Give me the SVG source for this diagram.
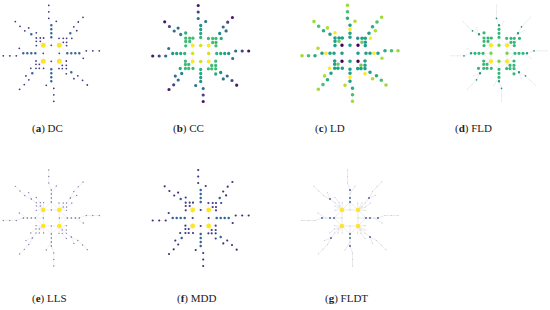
<svg xmlns="http://www.w3.org/2000/svg" width="550" height="310" viewBox="0 0 550 310">
<style>
.d{fill:none;stroke-linecap:round}
.e{fill:none;stroke-linecap:round;stroke-linejoin:round}
.lbl{font-family:"Liberation Serif","DejaVu Serif",serif;font-size:11px;fill:#222}
.lbl tspan.b{font-weight:bold}
</style>
<defs>
<path id="hub" d="M8 -8h0M8 8h0M-8 8h0M-8 -8h0"/>
<path id="c0" d="M8 0h0M0 8h0M-8 0h0M0 -8h0"/>
<path id="ci1" d="M16 0h0M0 16h0M-16 0h0M0 -16h0"/>
<path id="ci2" d="M20 0h0M0 20h0M-20 0h0M0 -20h0"/>
<path id="ci3" d="M24 0h0M0 24h0M-24 0h0M0 -24h0"/>
<path id="ci4" d="M28 0h0M0 28h0M-28 0h0M0 -28h0"/>
<path id="co1" d="M35 -2.5h0M2.5 35h0M-35 2.5h0M-2.5 -35h0"/>
<path id="co2" d="M41.5 -2.5h0M2.5 41.5h0M-41.5 2.5h0M-2.5 -41.5h0"/>
<path id="co3" d="M48 -2.5h0M2.5 48h0M-48 2.5h0M-2.5 -48h0"/>
<path id="cs" d="M32 5h0M-5 32h0M-32 -5h0M5 -32h0"/>
<path id="ringA" d="M12 -11h0M11 12h0M-12 11h0M-11 -12h0"/>
<path id="ring" d="M15.3 -11h0M12 -15h0M15.3 -15h0M7.7 -15h0M15.3 -7.7h0M11 15.3h0M15 12h0M15 15.3h0M15 7.7h0M7.7 15.3h0M-15.3 11h0M-12 15h0M-15.3 15h0M-7.7 15h0M-15.3 7.7h0M-11 -15.3h0M-15 -12h0M-15 -15.3h0M-15 -7.7h0M-7.7 -15.3h0"/>
<path id="dx" d="M20.5 -15h0M15 20.5h0M-20.5 15h0M-15 -20.5h0"/>
<path id="db" d="M19 -20h0M20 19h0M-19 20h0M-20 -19h0"/>
<path id="do1" d="M22.5 -26.5h0M26.5 22.5h0M-22.5 26.5h0M-26.5 -22.5h0"/>
<path id="do2" d="M27 -31.3h0M31.3 27h0M-27 31.3h0M-31.3 -27h0"/>
<path id="do3" d="M31.7 -36h0M36 31.7h0M-31.7 36h0M-36 -31.7h0"/>
<path id="ds" d="M25.4 -22.6h0M22.6 25.4h0M-25.4 22.6h0M-22.6 -25.4h0"/>
<path id="es" d="M8 -8L8 0M8 -8L0 -8M8 -8L16 0M8 -8L0 -16M8 0H28M28 0L35 -2.5L48 -2.5M24 0L32 5M8 -8L12 -11M8 -8L15.3 -11M8 -8L12 -15M8 -8L15.3 -15M8 -8L7.7 -15M8 -8L15.3 -7.7M15.3 -15L19 -20L22.5 -26.5L27 -31.3L31.7 -36M19 -20L25.4 -22.6M15.3 -11L20.5 -15"/>
<g id="edges"><use href="#es"/><use href="#es" transform="rotate(90)"/><use href="#es" transform="rotate(180)"/><use href="#es" transform="rotate(270)"/></g>
</defs>

<g id="connectors">
<use href="#edges" class="e" transform="translate(51.3 53.3)" stroke="#f0f0f0" stroke-width="0.5"/>
<use href="#edges" class="e" transform="translate(200.7 53.5)" stroke="#f0f0f0" stroke-width="0.5"/>
<use href="#edges" class="e" transform="translate(350 53.3)" stroke="#f0f0f0" stroke-width="0.5"/>
<use href="#edges" class="e" transform="translate(499 53.3)" stroke="#e4e4e4" stroke-width="0.6"/>
<use href="#edges" class="e" transform="translate(51.3 218)" stroke="#e6e6e6" stroke-width="0.6"/>
<use href="#edges" class="e" transform="translate(200.7 218)" stroke="#f0f0f0" stroke-width="0.5"/>
<use href="#edges" class="e" transform="translate(350 218)" stroke="#e2e2e2" stroke-width="0.7"/>
</g>

<g id="panel-a-DC" transform="translate(51.3 53.3)">
<g class="d" stroke="#4a3383" stroke-width="1.8"><use href="#co1"/><use href="#co2"/><use href="#co3"/><use href="#do1"/><use href="#do2"/><use href="#do3"/><use href="#cs"/><use href="#ds"/></g>
<g class="d" stroke="#46398a" stroke-width="1.8"><use href="#ring"/><use href="#ringA"/><use href="#dx"/><use href="#c0"/></g>
<g class="d" stroke="#35659a" stroke-width="2.5"><use href="#ci1"/><use href="#ci2"/><use href="#ci3"/><use href="#ci4"/><use href="#db"/></g>
<use href="#hub" class="d" stroke="#fde725" stroke-width="5"/>
</g>

<g id="panel-b-CC" transform="translate(200.7 53.5)">
<g class="d" stroke-width="3.2">
<use href="#co3" stroke="#48186a"/><use href="#do3" stroke="#48186a"/>
<use href="#co2" stroke="#414487"/><use href="#do2" stroke="#414487"/>
<use href="#co1" stroke="#2f6c8e"/><use href="#do1" stroke="#2f6c8e"/>
<use href="#cs" stroke="#2a768e"/><use href="#ds" stroke="#2c728e"/>
</g>
<g class="d" stroke-width="3.3">
<use href="#db" stroke="#23898e"/>
<use href="#ci4" stroke="#1f958b"/><use href="#ci3" stroke="#1fa088"/><use href="#ci2" stroke="#25ab82"/><use href="#ci1" stroke="#2fb47c"/>
<use href="#dx" stroke="#27ad81"/>
<use href="#ring" stroke="#3dbc74"/><use href="#ringA" stroke="#3dbc74"/>
</g>
<use href="#c0" class="d" stroke="#d2e21b" stroke-width="3.6"/>
<use href="#hub" class="d" stroke="#fde725" stroke-width="3.8"/>
</g>

<g id="panel-c-LD" transform="translate(350 53.3)">
<g class="d" stroke-width="3.6">
<use href="#co3" stroke="#9fda3a"/><use href="#do3" stroke="#9fda3a"/>
<use href="#co2" stroke="#4ac16d"/><use href="#do2" stroke="#4ac16d"/>
<use href="#co1" stroke="#28ae80"/><use href="#do1" stroke="#28ae80"/>
<use href="#cs" stroke="#b0dd2f"/><use href="#ds" stroke="#b0dd2f"/>
<use href="#ci1" stroke="#1fa187"/><use href="#ci2" stroke="#1fa187"/><use href="#ci4" stroke="#1fa187"/>
<use href="#c0" stroke="#1fa187"/><use href="#ring" stroke="#1fa187"/><use href="#db" stroke="#1fa187"/>
<use href="#ringA" stroke="#6ccd5a"/>
<use href="#ci3" stroke="#fde725"/><use href="#dx" stroke="#fde725"/>
</g>
<use href="#hub" class="d" stroke="#440154" stroke-width="3.4"/>
</g>

<g id="panel-d-FLD" transform="translate(499 53.3)">
<g class="d" stroke="#d6e4e8" stroke-width="1"><use href="#co2"/><use href="#co3"/><use href="#do2"/><use href="#do3"/><use href="#cs"/><use href="#ds"/></g>
<g class="d" stroke="#2a8a8c" stroke-width="1.7"><use href="#co1"/><use href="#do1"/></g>
<g class="d" stroke="#1f9a8a" stroke-width="2.4"><use href="#ci4"/><use href="#db"/></g>
<g class="d" stroke="#35b779" stroke-width="3.2"><use href="#ci1"/><use href="#ci2"/><use href="#ci3"/><use href="#ring"/><use href="#ringA"/><use href="#dx"/></g>
<use href="#c0" class="d" stroke="#7ad151" stroke-width="3.4"/>
<use href="#hub" class="d" stroke="#fde725" stroke-width="4.2"/>
</g>

<g id="panel-e-LLS" transform="translate(51.3 218)">
<g class="d" stroke="#8571b0" stroke-width="1.3"><use href="#co1"/><use href="#co2"/><use href="#co3"/><use href="#do1"/><use href="#do2"/><use href="#do3"/><use href="#cs"/><use href="#ds"/><use href="#ring"/><use href="#ringA"/><use href="#dx"/><use href="#c0"/></g>
<g class="d" stroke="#5f50a0" stroke-width="1.4"><use href="#ci1"/><use href="#ci2"/><use href="#ci3"/><use href="#ci4"/><use href="#db"/></g>
<use href="#hub" class="d" stroke="#fde725" stroke-width="4.6"/>
</g>

<g id="panel-f-MDD" transform="translate(200.7 218)">
<g class="d" stroke="#46307e" stroke-width="2.2"><use href="#co1"/><use href="#co2"/><use href="#co3"/><use href="#do1"/><use href="#do2"/><use href="#do3"/><use href="#cs"/><use href="#ds"/></g>
<g class="d" stroke="#403b88" stroke-width="2.2"><use href="#ring"/><use href="#ringA"/><use href="#dx"/><use href="#c0"/></g>
<g class="d" stroke="#33659a" stroke-width="2.5"><use href="#ci1"/><use href="#ci2"/><use href="#ci3"/><use href="#ci4"/><use href="#db"/></g>
<use href="#hub" class="d" stroke="#fde725" stroke-width="4.8"/>
</g>

<g id="panel-g-FLDT" transform="translate(350 218)">
<g class="d" stroke="#c4bdd8" stroke-width="1"><use href="#co1"/><use href="#co2"/><use href="#co3"/><use href="#do1"/><use href="#do2"/><use href="#do3"/><use href="#cs"/><use href="#ds"/><use href="#ring"/><use href="#ringA"/><use href="#dx"/><use href="#c0"/><use href="#ci3"/></g>
<g class="d" stroke="#3b5f96" stroke-width="1.9"><use href="#ci1"/><use href="#ci2"/><use href="#ci4"/><use href="#db"/></g>
<use href="#hub" class="d" stroke="#fde725" stroke-width="4.6"/>
</g>

<g id="labels">
<text class="lbl" x="32" y="132">(<tspan class="b">a</tspan>) DC</text>
<text class="lbl" x="173" y="132">(<tspan class="b">b</tspan>) CC</text>
<text class="lbl" x="315" y="132">(<tspan class="b">c</tspan>) LD</text>
<text class="lbl" x="455" y="132">(<tspan class="b">d</tspan>) FLD</text>
<text class="lbl" x="32" y="302">(<tspan class="b">e</tspan>) LLS</text>
<text class="lbl" x="177" y="302">(<tspan class="b">f</tspan>) MDD</text>
<text class="lbl" x="325" y="302">(<tspan class="b">g</tspan>) FLDT</text>
</g>
</svg>
